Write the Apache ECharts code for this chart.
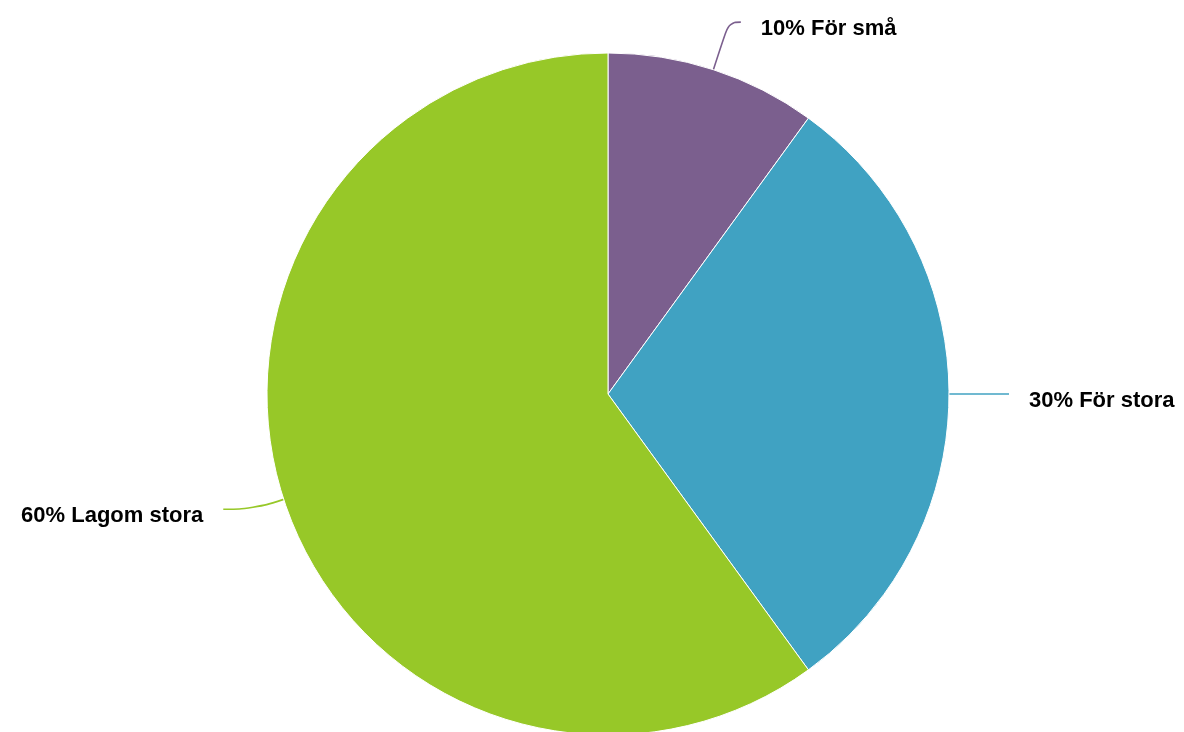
<!DOCTYPE html>
<html>
<head>
<meta charset="utf-8">
<script src="https://cdn.jsdelivr.net/npm/echarts@6/dist/echarts.min.js"></script>
<style>
  html, body { margin: 0; padding: 0; background: #fff; }
  #chart { width: 1184px; height: 732px; }
</style>
</head>
<body>
<div id="chart"></div>
<script>
// data
var categories = ['För små', 'För stora', 'Lagom stora'];
var shares = [10, 30, 60];
var colors = ['#7b5f8e', '#40a2c2', '#97c828'];
var lineLengths = [[50, 12], [30, 30], [32, 30]];

var seriesData = categories.map(function (name, i) {
    return {
        name: name,
        value: shares[i],
        itemStyle: { color: colors[i] },
        labelLine: {
            length: lineLengths[i][0],
            length2: lineLengths[i][1],
            lineStyle: { color: colors[i], width: 1.6 }
        }
    };
});

var myChart = echarts.init(document.getElementById('chart'));
var option = {
    animation: false,
    series: [{
        type: 'pie',
        center: [608, 394],
        radius: 341,
        startAngle: 90,
        clockwise: true,
        avoidLabelOverlap: false,
        itemStyle: { borderColor: '#fff', borderWidth: 1 },
        label: {
            show: true,
            position: 'outside',
            distanceToLabelLine: 20,
            formatter: function (p) { return '{t|' + p.value + '% ' + p.name + '}'; },
            rich: {
                t: {
                    fontFamily: 'Liberation Sans, Arial, sans-serif',
                    fontWeight: 'bold',
                    fontSize: 22,
                    color: '#000',
                    padding: [13, 0, 0, 0]
                }
            }
        },
        labelLine: { show: true, smooth: 0.45 },
        emphasis: { disabled: true },
        data: seriesData
    }]
};
myChart.setOption(option);
</script>
</body>
</html>
